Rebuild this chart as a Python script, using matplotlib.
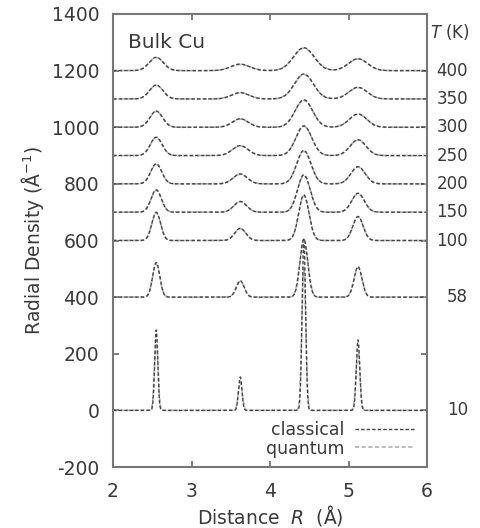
import numpy as np
import matplotlib
matplotlib.use("Agg")
import matplotlib.pyplot as plt

# ==========================================================
# DATA
# ==========================================================

temperatures = [10, 58, 100, 150, 200, 250, 300, 350, 400]
offsets = [0, 400, 600, 700, 800, 900, 1000, 1100, 1200]

peak_positions = [2.55, 3.62, 4.43, 5.12]

# classical peak heights above each baseline, one row per temperature
classical_heights = [
    [284, 118, 609, 249],
    [122, 58, 205, 108],
    [100, 43, 161, 85],
    [79, 38, 132, 67],
    [71, 35, 118, 61],
    [65, 35, 105, 56],
    [57, 30, 97, 47],
    [49, 22, 88, 41],
    [47, 23, 81, 42],
]

# quantum peak heights (slightly lower / broader)
quantum_heights = [
    [250, 100, 505, 215],
    [116, 55, 198, 103],
    [97, 42, 157, 83],
    [77, 37, 129, 65],
    [69, 34, 115, 59],
    [63, 34, 103, 55],
    [56, 29, 95, 46],
    [48, 22, 86, 40],
    [46, 22, 79, 41],
]

# peak widths (sigma, Angstrom)
peak_widths = [
    [0.020, 0.022, 0.022, 0.022],
    [0.045, 0.050, 0.050, 0.050],
    [0.055, 0.070, 0.065, 0.065],
    [0.065, 0.080, 0.080, 0.080],
    [0.070, 0.090, 0.090, 0.090],
    [0.075, 0.100, 0.100, 0.100],
    [0.080, 0.100, 0.110, 0.110],
    [0.085, 0.110, 0.120, 0.115],
    [0.090, 0.120, 0.130, 0.120],
]
quantum_width_scale = [1.14, 1.05, 1.03, 1.02, 1.02, 1.02, 1.02, 1.02, 1.02]

# ==========================================================
# PLOT
# ==========================================================

plt.rcParams["font.family"] = ["DejaVu Sans"]
text_color = "#3a3a3a"

fig = plt.figure(figsize=(4.81, 5.28), dpi=100)
ax = fig.add_axes([0.235, 0.1155, 0.653, 0.858])

r = np.linspace(2, 6, 2000)


def curve(heights, widths, scale):
    y = np.zeros_like(r)
    for x0, h, w in zip(peak_positions, heights, widths):
        s = w * scale
        y += h * np.exp(-0.5 * ((r - x0) / s) ** 2)
    return y


for i, T in enumerate(temperatures):
    yc = offsets[i] + curve(classical_heights[i], peak_widths[i], 1.0)
    yq = offsets[i] + curve(quantum_heights[i], peak_widths[i],
                            quantum_width_scale[i])
    ax.plot(r, yq, color="#b0b0b0", linewidth=1.2,
            linestyle=(0, (2.5, 1.5)),
            label="quantum" if i == 0 else None)
    ax.plot(r, yc, color="#444444", linewidth=1.0,
            linestyle=(0, (2.5, 1.5)),
            label="classical" if i == 0 else None)
    ax.text(6.52, offsets[i], str(T), ha="right", va="center",
            fontsize=12, color=text_color, clip_on=False)

ax.text(6.55, 1336, r"$T$ (K)", ha="right", va="center",
        fontsize=12, color=text_color)
ax.text(2.19, 1301, "Bulk Cu", ha="left", va="center",
        fontsize=14.5, color=text_color)

ax.set_xlim(2, 6)
ax.set_ylim(-200, 1400)
ax.set_xticks([2, 3, 4, 5, 6])
ax.set_yticks(np.arange(-200, 1401, 200))
ax.tick_params(direction="in", top=True, right=True, length=4,
               width=1.2, labelsize=13.5, colors="#666666",
               labelcolor=text_color)
ax.tick_params(axis="y", pad=10)
ax.tick_params(axis="x", pad=11)
ax.set_yticklabels(["-200", "0", "200", "400", "600", "800",
                    "1000", "1200", "1400"])

for s in ax.spines.values():
    s.set_color("#777777")
    s.set_linewidth(1.5)

ax.set_xlabel(r"Distance  $R$  (Å)", fontsize=13.5, color=text_color,
              labelpad=1)
ax.set_ylabel(r"Radial Density (Å$^{-1}$)", fontsize=13.5,
              color=text_color, labelpad=4)

handles, labels = ax.get_legend_handles_labels()
order = [labels.index("classical"), labels.index("quantum")]
ax.legend([handles[k] for k in order], [labels[k] for k in order],
          loc="lower right", frameon=False, markerfirst=False,
          handlelength=3.4, handletextpad=0.6, fontsize=12.5,
          labelspacing=0.05, borderaxespad=0.2, labelcolor=text_color,
          bbox_to_anchor=(0.99, -0.002))

plt.savefig("out.png", dpi=100)
